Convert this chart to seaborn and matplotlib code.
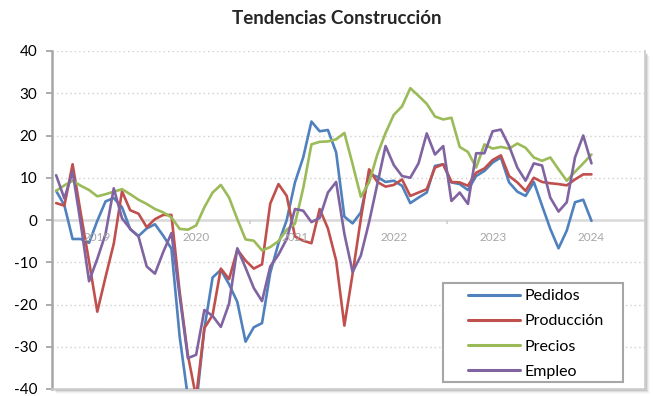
import numpy as np
import pandas as pd
import matplotlib
matplotlib.use("Agg")
import matplotlib.pyplot as plt
import seaborn as sns
from matplotlib.lines import Line2D
from matplotlib.patches import Rectangle

# Monthly survey balances, Aug 2018 - Jan 2024
meses = pd.date_range("2018-08-01", periods=66, freq="MS")

pedidos = [6.9, 3.5, -4.5, -4.5, -5.4, -0.2, 4.4, 5.2, 3.0, -2.2,
           -3.8, -2.0, -1.0, -3.7, -6.8, -27.6, -42.0, -44.0, -25.7, -13.6,
           -11.8, -15.2, -19.4, -28.8, -25.4, -24.4, -12.5, -5.5, 0.0, 8.9,
           14.8, 23.3, 21.0, 21.3, 16.0, 0.8, -0.8, 1.8, 11.0, 10.2,
           9.0, 9.3, 8.1, 4.0, 5.3, 6.5, 12.8, 13.2, 8.9, 8.5,
           7.1, 10.4, 11.6, 13.6, 14.8, 8.9, 6.7, 5.7, 9.0, 3.4,
           -2.1, -6.7, -2.5, 4.2, 4.8, -0.2]

produccion = [4.0, 3.4, 13.2, 1.5, -9.8, -21.7, -13.5, -5.6, 6.8, 2.3,
              1.5, -1.7, 0.2, 1.2, 1.2, -17.0, -32.0, -42.0, -25.6, -22.5,
              -11.5, -14.0, -7.0, -9.6, -11.5, -10.5, 3.9, 8.5, 5.7, -3.9,
              -4.9, -5.5, 2.6, -2.0, -9.6, -25.0, -12.7, 0.3, 12.0, 9.0,
              7.9, 8.3, 9.6, 5.7, 6.5, 7.3, 12.4, 13.2, 9.0, 8.9,
              8.1, 11.2, 12.2, 14.2, 15.3, 10.4, 8.9, 6.9, 10.0, 9.0,
              8.7, 8.5, 8.2, 9.6, 10.8, 10.8]

precios = [6.9, 8.2, 9.3, 8.1, 7.1, 5.6, 6.1, 6.7, 7.3, 6.1,
           4.8, 3.8, 2.6, 1.8, 0.6, -2.1, -2.3, -1.3, 3.0, 6.5,
           8.3, 5.3, 0.2, -4.6, -4.9, -7.2, -6.4, -5.0, -2.3, -0.9,
           7.5, 17.9, 18.5, 18.6, 19.1, 20.6, 13.2, 5.5, 8.9, 15.5,
           20.6, 24.9, 26.9, 31.2, 29.4, 27.5, 24.5, 23.8, 24.2, 17.3,
           16.1, 12.4, 17.9, 16.9, 17.3, 16.9, 18.1, 17.1, 14.8, 14.0,
           14.8, 12.0, 9.3, 11.4, 13.4, 15.5]

empleo = [10.6, 5.1, 11.4, -1.0, -14.5, -9.2, -3.3, 7.5, 0.4, -2.1,
          -3.9, -11.0, -12.7, -7.6, -3.1, -18.0, -32.7, -31.9, -21.3, -22.7,
          -25.3, -19.8, -6.7, -11.3, -16.1, -19.2, -11.0, -8.2, -4.5, 2.6,
          2.2, -0.5, 0.5, 6.5, 9.0, -3.3, -12.3, -8.4, -0.5, 8.5,
          17.5, 13.0, 10.4, 10.0, 13.4, 20.5, 15.5, 17.5, 4.5, 6.5,
          3.8, 15.8, 15.8, 21.0, 21.4, 17.5, 12.4, 9.3, 13.4, 12.9,
          5.3, 2.0, 4.2, 14.8, 20.0, 13.4]

series = ["Pedidos", "Producción", "Precios", "Empleo"]
colores = ["#4F81BD", "#C0504D", "#9BBB59", "#8064A2"]
valores_y = [40, 30, 20, 10, 0, -10, -20, -30, -40]

sns.set_theme(style="white")
plt.rcParams["font.family"] = ["Lato", "DejaVu Sans"]
plt.rcParams["axes.unicode_minus"] = False

pos = np.arange(len(meses))
df = pd.DataFrame({"mes": pos, "Pedidos": pedidos, "Producción": produccion,
                   "Precios": precios, "Empleo": empleo})
largo = df.melt(id_vars="mes", var_name="serie", value_name="valor")

W, H = 654, 396
AX_L, AX_B, AX_W, AX_H = 52, 7, 593, 338
fig = plt.figure(figsize=(W / 100, H / 100), dpi=100)
fig.patch.set_facecolor("white")

# soft drop shadow behind the plot area frame
for k, a in enumerate([0.10, 0.07, 0.04, 0.02]):
    fig.add_artist(Rectangle(((AX_L + 2 + k) / W, (AX_B - 2 - k) / H), AX_W / W, AX_H / H,
                             transform=fig.transFigure, facecolor="black",
                             edgecolor="none", alpha=a, zorder=0))

ax = fig.add_axes([AX_L / W, AX_B / H, AX_W / W, AX_H / H])
ax.set_facecolor("white")
ax.set_zorder(1)

sns.lineplot(data=largo, x="mes", y="valor", hue="serie", hue_order=series,
             palette=colores, linewidth=1.9, ax=ax, legend=False, zorder=3)

ax.set_xlim(-0.5, 71.5)
ax.set_ylim(-40, 40)
ax.set_yticks(valores_y)
ax.set_yticklabels([str(v) for v in valores_y])
ax.tick_params(axis="y", left=True, length=4, width=1.3, color="#a6a6a6",
               pad=6.5, labelsize=11, labelcolor="black", direction="out")
ax.set_xticks([])
ax.set_xlabel("")
ax.set_ylabel("")

for v in valores_y:
    if v != 0:
        ax.axhline(v, color="#cfcfcf", lw=1.0, ls=(0, (1, 2.2)), zorder=0)
ax.axhline(0, color="#d9d9d9", lw=1.8, zorder=1)
ax.vlines([23.5, 47.5], -0.9, 0, color="#d0d0d0", lw=1.2, zorder=1)

# year labels under the zero line, at each January
for m, fecha in zip(pos, meses):
    if fecha.month == 1:
        ax.annotate(str(fecha.year), xy=(m, 0), xytext=(0, -12.5),
                    textcoords="offset points", ha="center", va="center",
                    color="#a6a6a6", fontsize=8.5, annotation_clip=False)

ax.spines["top"].set_visible(False)
ax.spines["left"].set_color("#a6a6a6")
ax.spines["left"].set_linewidth(1.8)
for s in ["right", "bottom"]:
    ax.spines[s].set_color("#cccccc")
    ax.spines[s].set_linewidth(1.2)

# legend box
fig.add_artist(Rectangle((443 / W, 1 - 382 / H), 180 / W, 99 / H,
                         transform=fig.transFigure, facecolor="white",
                         edgecolor="#a6a6a6", lw=1.5, zorder=5))
handles = [Line2D([], [], color=c, lw=2.2) for c in colores]
leg = fig.legend(handles, series, loc="upper left",
                 bbox_to_anchor=(468 / W, 1 - 289 / H), frameon=False,
                 fontsize=11.5, handlelength=3.25, handletextpad=0.3,
                 labelspacing=0.69, borderpad=0, borderaxespad=0)
leg.set_zorder(6)
for t in leg.get_texts():
    t.set_color("black")

fig.text(337 / W, 1 - 19 / H, "Tendencias Construcción", ha="center",
         va="center", fontsize=13.5, fontweight="bold")

fig.savefig("out.png", dpi=100)
